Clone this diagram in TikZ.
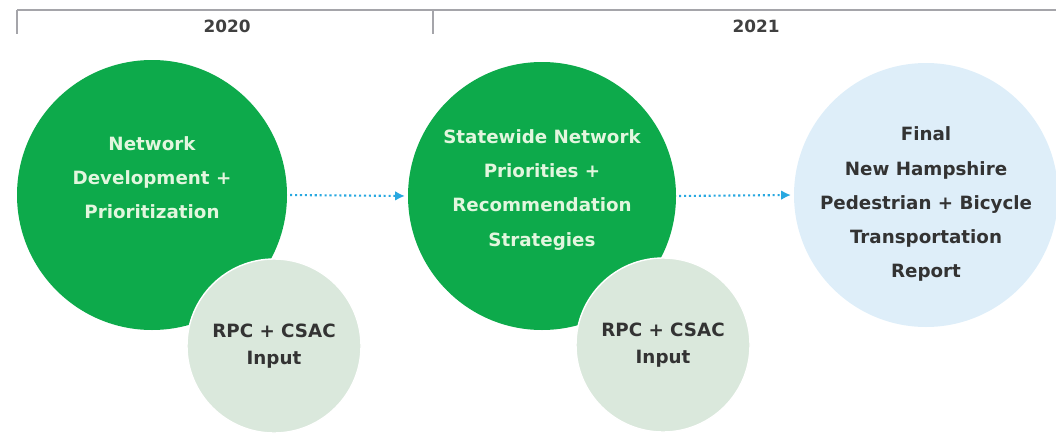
\documentclass[tikz,border=0pt]{standalone}
\usepackage{fontspec}
\setmainfont{DejaVu Sans}
\usetikzlibrary{arrows.meta}
\definecolor{phasegreen}{RGB}{13,170,75}
\definecolor{inputgreen}{RGB}{218,232,220}
\definecolor{reportblue}{RGB}{222,238,249}
\definecolor{arrowblue}{RGB}{40,168,224}
\definecolor{phasetext}{RGB}{226,246,222}
\definecolor{linegrey}{RGB}{165,165,170}
\def\px{0.025cm}
\tikzset{
  phase/.style={circle, fill=phasegreen, inner sep=0pt},
  inputcirc/.style={circle, fill=inputgreen, draw=white, line width=1pt, inner sep=0pt,
    minimum size=174*\px, text=black!80, align=center,
    font=\bfseries\fontsize{13}{19.5}\selectfont},
  phasetxt/.style={align=center, text=phasetext, font=\bfseries\fontsize{13}{24.2}\selectfont},
  yeartxt/.style={text=black!75, font=\bfseries\fontsize{12}{14}\selectfont},
  flowarrow/.style={arrowblue, line width=1.5pt, dotted, shorten <=2pt, shorten >=2pt,
    -{Latex[length=7pt,width=7pt]}}
}
\begin{document}
\begin{tikzpicture}[x=\px, y=-\px]
    \useasboundingbox (0,0) rectangle (1056,434);

    %%%%% TIMELINE %%%%%
    \draw[linegrey, line width=1pt] (17,10) -- (1056,10);
    \draw[linegrey, line width=1.2pt] (17,10) -- (17,34);
    \draw[linegrey, line width=1.2pt] (433,10) -- (433,34);
    \node[yeartxt] (y2020) at (227,26) {2020};
    \node[yeartxt] (y2021) at (756,26) {2021};

    %%%%% PHASES %%%%%
    \node[phase, minimum size=270*\px] (net) at (152,195) {};
    \node[phase, minimum size=268*\px] (state) at (542,196) {};
    \node[circle, fill=reportblue, inner sep=0pt, minimum size=264*\px] (report) at (926,195) {};

    \node[phasetxt] (nettxt) at (152,178) {Network\\Development +\\Prioritization};
    \node[phasetxt] (statetxt) at (542,190) {Statewide Network\\Priorities +\\Recommendation\\Strategies};
    \node[phasetxt, text=black!80] (reporttxt) at (926,204) {Final\\New Hampshire\\Pedestrian + Bicycle\\Transportation\\Report};

    %%%%% INPUT %%%%%
    \node[inputcirc] (netin) at (274,346) {RPC + CSAC\\Input};
    \node[inputcirc] (statein) at (663,345) {RPC + CSAC\\Input};

    %%%%% ARROWS %%%%%
    \draw[flowarrow] (net.east) -- (state.west);
    \draw[flowarrow] (state.east) -- (report.west);

\end{tikzpicture}
\end{document}
